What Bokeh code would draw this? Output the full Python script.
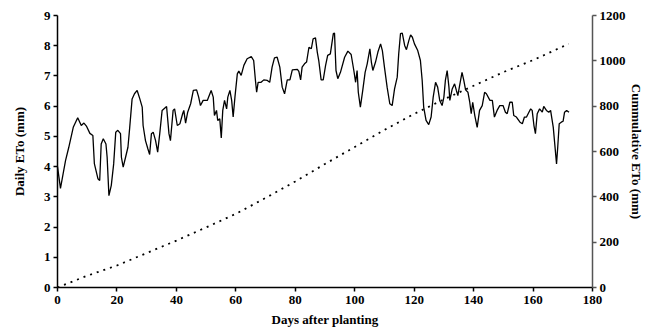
from bokeh.plotting import figure
from bokeh.models import Range1d, LinearAxis, FixedTicker
from bokeh.embed import file_html
from bokeh.resources import INLINE

# Daily ETo (mm)
days = [0, 1.0, 1.9, 2.7, 3.8, 5.3, 6.8, 8.0, 8.9, 9.8, 10.9, 11.9, 12.4, 13.6, 14.2, 14.7, 15.4, 16.3, 16.7, 17.3,
        18.1, 18.9, 19.6, 20.3, 21.2, 21.5, 22.1, 22.9, 23.7, 24.3, 25.1, 25.9, 26.8, 27.7, 28.5, 28.8, 29.6, 30.4,
        31.0, 31.6, 32.2, 33.0, 33.7, 34.4, 35.2, 36.7, 37.5, 38.0, 38.9, 39.4, 40.3, 41.2, 42.1, 42.5, 43.1, 43.8,
        44.8, 45.7, 46.8, 47.5, 48.1, 49.0, 50.4, 51.7, 52.4, 52.8, 53.5, 53.9, 54.6, 55.1, 55.6, 56.2, 56.9, 57.3,
        58.0, 58.6, 59.1, 59.7, 60.5, 61.0, 61.8, 62.7, 63.8, 65.2, 66.0, 66.6, 67.0, 67.5, 68.5, 69.4, 70.6, 71.4,
        72.2, 73.0, 73.9, 74.8, 75.6, 76.4, 77.3, 78.2, 79.0, 80.7, 81.2, 81.8, 82.3, 83.1, 83.8, 84.6, 85.4, 86.0,
        86.8, 87.4, 87.9, 88.7, 89.4, 90.2, 90.9, 91.8, 92.8, 93.2, 93.7, 94.3, 95.2, 96.6, 97.7, 98.8, 99.7, 100.3,
        100.8, 101.2, 101.9, 102.7, 103.5, 104.2, 105.1, 105.6, 106.1, 107.0, 107.8, 108.7, 109.3, 110.0, 110.9,
        111.8, 112.6, 113.4, 114.3, 114.8, 115.4, 116.0, 116.8, 117.4, 118.2, 118.8, 119.4, 120.1, 121.2, 122.1,
        122.7, 123.2, 124.0, 124.9, 125.7, 126.4, 127.2, 127.9, 128.6, 129.4, 130.0, 130.5, 131.1, 131.7, 132.0,
        132.8, 133.6, 134.2, 134.7, 135.2, 136.1, 136.7, 137.3, 138.1, 138.7, 139.2, 139.7, 140.4, 141.2, 142.0,
        142.9, 143.7, 144.3, 145.5, 146.3, 147.0, 147.9, 148.8, 149.9, 150.7, 151.3, 152.2, 153.0, 153.5, 154.4,
        155.6, 156.4, 157.1, 157.8, 158.6, 159.2, 159.7, 160.3, 160.8, 161.4, 162.2, 163.1, 163.6, 164.5, 165.3,
        165.9, 166.8, 167.3, 167.9, 168.3, 168.8, 169.5, 170.1, 170.6, 171.3, 172.1]
daily_eto = [4.0, 3.28, 3.77, 4.2, 4.64, 5.3, 5.62, 5.36, 5.44, 5.33, 5.1, 5.03, 4.1, 3.6, 3.54, 4.75, 4.92, 4.75, 4.31, 3.04,
             3.38, 4.09, 5.14, 5.2, 5.09, 4.31, 3.98, 4.31, 4.64, 5.3, 6.24, 6.41, 6.52, 6.24, 5.97, 5.36, 4.86, 4.59,
             4.4, 5.09, 5.14, 4.86, 4.48, 5.09, 5.86, 5.99, 5.09, 4.86, 5.86, 5.91, 5.36, 5.42, 5.75, 5.86, 5.44, 5.8,
             6.08, 6.52, 6.54, 6.3, 6.02, 6.19, 6.19, 6.52, 6.3, 5.69, 5.86, 5.53, 5.58, 4.95, 5.86, 6.19, 5.91, 6.3,
             6.52, 6.19, 5.64, 6.3, 7.07, 7.16, 7.02, 7.35, 7.57, 7.64, 7.51, 6.85, 6.46, 6.79, 6.79, 6.87, 6.85, 6.79,
             7.29, 7.6, 7.62, 7.29, 6.63, 6.41, 6.87, 6.87, 7.2, 7.22, 7.15, 6.87, 7.29, 7.4, 7.46, 7.95, 7.9, 8.23,
             8.26, 7.79, 7.51, 6.87, 6.87, 7.35, 7.68, 7.73, 8.4, 8.42, 7.18, 6.91, 7.12, 7.62, 7.82, 7.71, 7.18, 6.79,
             7.18, 6.46, 5.97, 6.52, 7.12, 7.4, 7.9, 7.46, 7.18, 7.46, 7.79, 8.06, 7.84, 7.29, 6.63,
             6.08, 6.02, 6.57, 6.96, 7.73, 8.4, 8.42, 8.01, 7.87, 8.17, 8.36, 8.28, 8.06, 7.84, 7.51,
             6.85, 5.97, 5.53, 5.39, 5.64, 6.3, 6.79, 6.63, 6.19, 6.02, 6.3, 6.85, 7.18, 6.63, 6.19,
             6.57, 6.74, 6.52, 6.35, 6.63, 7.12, 6.85, 6.54, 6.46, 6.13, 5.75, 6.13, 5.69, 5.3, 5.86,
             6.02, 6.46, 6.41, 6.19, 6.19, 5.64, 5.86, 6.02, 6.02, 5.8, 5.75, 6.13, 6.13, 5.69, 5.64,
             5.47, 5.42, 5.64, 5.64, 5.8, 5.91, 5.86, 5.36, 5.09, 5.75, 5.91, 5.8, 5.99, 5.86, 5.8,
             5.86, 5.3, 4.75, 4.09, 4.64, 5.42, 5.47, 5.5, 5.8, 5.86, 5.8]

# Cumulative ETo (mm)
cum_days = [0, 10, 20, 30, 40, 50, 60, 70, 80, 90, 100, 110, 120, 130, 140, 150, 160, 172]
cum_eto = [0, 52, 97, 152, 207, 265, 325, 395, 468, 545, 620, 695, 766, 830, 890, 950, 1003, 1075]

x_ticks = [0, 20, 40, 60, 80, 100, 120, 140, 160, 180]
left_ticks = [0, 1, 2, 3, 4, 5, 6, 7, 8, 9]
right_ticks = [0, 200, 400, 600, 800, 1000, 1200]

FONT = "Liberation Serif"

p = figure(width=652, height=331, output_backend="svg", toolbar_location=None,
           x_range=Range1d(0, 180), y_range=Range1d(0, 9),
           min_border_left=57, min_border_right=60, min_border_top=15, min_border_bottom=44)
p.outline_line_color = None
p.grid.grid_line_color = None
p.extra_y_ranges = {"cum": Range1d(0, 1200)}

p.line(days, daily_eto, line_color="black", line_width=1.3)
p.line(cum_days, cum_eto, y_range_name="cum", line_color="black", line_width=1.8, line_dash="2 5")

right_axis = LinearAxis(y_range_name="cum")
p.add_layout(right_axis, "right")

p.xaxis.ticker = FixedTicker(ticks=x_ticks)
p.yaxis[0].ticker = FixedTicker(ticks=left_ticks)
right_axis.ticker = FixedTicker(ticks=right_ticks)

p.xaxis.axis_label = "Days after planting"
p.yaxis[0].axis_label = "Daily ETo (mm)"
right_axis.axis_label = "Cummulative ETo (mm)"

for ax in p.axis:
    ax.major_label_text_font = FONT
    ax.major_label_text_font_style = "bold"
    ax.major_label_text_font_size = "13px"
    ax.major_label_text_color = "black"
    ax.axis_label_text_font = FONT
    ax.axis_label_text_font_style = "bold"
    ax.axis_label_text_font_size = "13px"
    ax.axis_label_text_color = "black"
    ax.minor_tick_line_color = None
    ax.major_tick_in = 0
    ax.major_tick_out = 4
    ax.axis_line_color = "black"
    ax.major_tick_line_color = "black"
    ax.axis_line_width = 1.5
    ax.major_tick_line_width = 1.5

right_axis.axis_line_color = "#555555"
right_axis.major_tick_line_color = "#555555"

p.xaxis.major_label_standoff = 4
p.xaxis.axis_label_standoff = 5
p.yaxis[0].major_label_standoff = 3
p.yaxis[0].axis_label_standoff = 14
right_axis.major_label_standoff = 3
right_axis.axis_label_standoff = 0

open("out.html", "w").write(file_html(p, INLINE))
